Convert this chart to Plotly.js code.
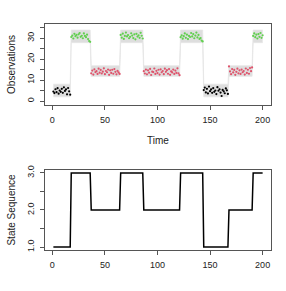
<!DOCTYPE html>
<html>
<head>
<meta charset="utf-8">
<script src="https://cdn.plot.ly/plotly-3.0.1.min.js"></script>
<style>html,body{margin:0;padding:0;background:#fff;}#chart{width:286px;height:291px;}</style>
</head>
<body>
<div id="chart"></div>
<script>
// Hidden state runs (state value, run length)
var stateValues = [1, 3, 2, 3, 2, 3, 1, 2, 3];
var stateLengths = [17, 19, 28, 22, 35, 22, 24, 23, 10];

// Observations, read segment by segment
var obsSeg1 = [4.5, 3.8, 5.6, 4.2, 6.1, 3.5, 5.0, 4.4, 5.8, 3.9, 6.5, 4.8, 5.5, 3.2, 6.2, 4.6, 3.0];
var obsSeg2 = [30.5, 31.2, 29.8, 32.0, 30.9, 31.5, 30.2, 31.8, 32.4, 30.6, 31.1, 29.9, 32.2, 31.0, 30.4, 31.6, 29.5, 28.6, 28.2];
var obsSeg3 = [13.2, 14.5, 12.6, 15.1, 13.8, 14.2, 12.9, 15.4, 13.5, 14.8, 13.1, 14.0, 15.6, 12.8, 14.3, 13.7, 15.0, 12.5, 14.6, 13.4, 14.9, 13.0, 15.2, 13.9, 12.7, 14.4, 13.6, 12.9];
var obsSeg4 = [31.5, 30.2, 32.1, 29.6, 31.0, 32.6, 30.8, 31.4, 29.9, 30.6, 32.3, 31.2, 30.0, 31.8, 29.4, 32.0, 30.7, 31.3, 30.1, 32.5, 31.1, 29.8];
var obsSeg5 = [14.2, 13.1, 15.0, 12.7, 14.6, 13.5, 15.3, 12.4, 14.0, 13.8, 15.5, 12.9, 14.4, 13.3, 14.9, 12.6, 15.1, 13.7, 14.3, 12.8, 15.4, 13.9, 14.7, 13.0, 15.2, 12.5, 14.1, 13.6, 15.0, 12.9, 14.5, 13.4, 15.6, 13.2, 12.3];
var obsSeg6 = [30.4, 31.3, 29.7, 30.9, 32.2, 30.1, 31.6, 29.5, 31.0, 30.5, 32.4, 30.8, 31.9, 29.9, 31.2, 32.6, 30.3, 31.5, 29.6, 30.0, 28.8, 28.4];
var obsSeg7 = [5.2, 6.4, 4.1, 5.8, 3.6, 6.9, 4.7, 5.5, 3.9, 6.1, 4.4, 5.0, 3.3, 6.6, 4.9, 5.6, 4.0, 2.4, 5.3, 4.6, 3.7, 6.0, 5.1, 3.4];
var obsSeg8 = [16.5, 14.1, 12.8, 15.2, 13.6, 14.8, 12.5, 13.9, 15.4, 13.2, 14.6, 12.9, 15.0, 13.7, 14.3, 12.6, 15.5, 13.4, 14.9, 13.0, 15.7, 14.2, 16.0];
var obsSeg9 = [31.0, 32.2, 30.4, 31.6, 29.8, 31.9, 30.6, 32.4, 30.1, 31.3];

// Grey envelope limits per state (state 1, 2, 3)
var bandLow = [2.0, 11.8, 27.8];
var bandHigh = [8.0, 16.8, 33.8];
var stateColors = ['#000000', '#DF536B', '#61D04F'];

var xTicks = [0, 50, 100, 150, 200];
var yTopTicks = [0, 5, 10, 15, 20, 25, 30, 35];
var yTopLabels = ['0', '', '10', '', '20', '', '30', ''];
var yBotTicks = [1.0, 1.5, 2.0, 2.5, 3.0];
var yBotLabels = ['1.0', '', '2.0', '', '3.0'];

var obs = [].concat(obsSeg1, obsSeg2, obsSeg3, obsSeg4, obsSeg5, obsSeg6, obsSeg7, obsSeg8, obsSeg9);
var states = [];
stateValues.forEach(function (s, i) { for (var k = 0; k < stateLengths[i]; k++) states.push(s); });
var t = obs.map(function (_, i) { return i + 1; });
var lo = states.map(function (s) { return bandLow[s - 1]; });
var hi = states.map(function (s) { return bandHigh[s - 1]; });
var ptColors = states.map(function (s) { return stateColors[s - 1]; });

var traces = [
  {x: t, y: lo, type: 'scatter', mode: 'lines', line: {color: '#E6E6E6', width: 0.8}, xaxis: 'x', yaxis: 'y', hoverinfo: 'skip'},
  {x: t, y: hi, type: 'scatter', mode: 'lines', fill: 'tonexty', fillcolor: '#DEDEDE', line: {color: '#E6E6E6', width: 0.8}, xaxis: 'x', yaxis: 'y', hoverinfo: 'skip'},
  {x: t, y: obs, type: 'scatter', mode: 'markers', marker: {color: ptColors, size: 2.2}, xaxis: 'x', yaxis: 'y'},
  {x: t, y: states, type: 'scatter', mode: 'lines', line: {color: '#000000', width: 1.5}, xaxis: 'x2', yaxis: 'y2'}
];

var font = {family: 'Liberation Sans, Arial, sans-serif', size: 9, color: '#222'};
function xax(anchor, title) {
  return {
    anchor: anchor, domain: [0, 1], range: [-6.96, 207.96], tickvals: xTicks, ticktext: xTicks.map(String),
    ticks: 'outside', ticklen: 4, tickcolor: '#555', showline: true, linecolor: '#555', linewidth: 1, mirror: true,
    showgrid: false, zeroline: false, tickfont: font, ticklabelstandoff: 2,
    title: {text: title, font: {family: font.family, size: 10, color: '#222'}, standoff: 13}
  };
}
function yax(anchor, domain, range, vals, labels, title) {
  return {
    anchor: anchor, domain: domain, range: range, tickvals: vals, ticktext: labels, tickangle: -90,
    ticks: 'outside', ticklen: 4, tickcolor: '#555', showline: true, linecolor: '#555', linewidth: 1, mirror: true,
    showgrid: false, zeroline: false, tickfont: font, ticklabelstandoff: 2,
    title: {text: title, font: {family: font.family, size: 10, color: '#222'}, standoff: 8}
  };
}

var layout = {
  width: 286, height: 291, showlegend: false,
  paper_bgcolor: '#fff', plot_bgcolor: '#fff',
  margin: {l: 45, r: 15, t: 24, b: 41, pad: 0},
  xaxis: xax('y', 'Time'),
  yaxis: yax('x', [0.6416, 1], [-1.9, 36.7], yTopTicks, yTopLabels, 'Observations'),
  xaxis2: xax('y2', ''),
  yaxis2: yax('x2', [0, 0.354], [0.92, 3.08], yBotTicks, yBotLabels, 'State Sequence')
};

Plotly.newPlot('chart', traces, layout, {displayModeBar: false, staticPlot: true});
</script>
</body>
</html>
